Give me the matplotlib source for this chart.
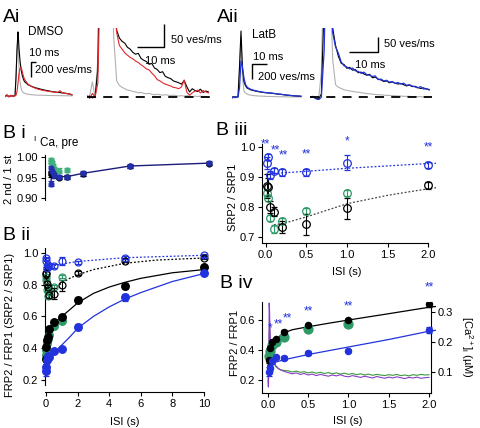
import matplotlib.pyplot as plt
import numpy as np

plt.rcParams['font.family'] = ['Liberation Sans', 'DejaVu Sans']
plt.rcParams['mathtext.fontset'] = 'custom'
plt.rcParams['mathtext.rm'] = 'Liberation Sans'
plt.rcParams['mathtext.it'] = 'Liberation Sans:italic'
plt.rcParams['font.size'] = 8
plt.rcParams['axes.linewidth'] = 0.8

BLACK = 'black'
RED = '#e3262b'
GRAY = '#b0b0b0'
BLUE = '#2233dd'
NAVY = '#1c1c7a'
GREEN = '#2e9a68'
LGREEN = '#3fb07c'
PURPLE = '#8a3cc8'
CA_GREEN = '#3a9a3a'

# ---------------- A: release rate traces (ves/ms vs ms) ----------------
ai_left_t = [0, 4, 8, 12, 16, 20, 22, 24, 26, 27, 28, 30, 32, 34, 36, 38, 40, 43, 46,
             50, 54, 58, 62, 66, 70, 75, 80, 85, 90, 95, 100, 105, 110, 115, 120, 125, 130, 134]
ai_left_black = [0, 5, -5, 3, 0, 4, 250, 620, 855, 760, 640, 470, 360, 290, 240, 205, 185, 170, 150,
                 138, 125, 118, 108, 102, 94, 86, 78, 72, 65, 58, 54, 50, 46, 42, 38, 32, 26, 16]
ai_left_red = [-10, 20, -15, 10, -5, 5, 10, 60, 170, 240, 300, 370, 385, 340, 285, 240, 215, 185, 160,
               140, 125, 112, 100, 92, 85, 76, 70, 64, 60, 55, 50, 46, 72, 40, 36, 30, 25, 15]
ai_left_gray = [0, 0, 0, 0, 0, 0, 240, 600, 800, 560, 380, 190, 110, 65, 50, 40, 34, 28, 24,
                20, 17, 15, 13, 12, 11, 10, 9, 8, 7, 7, 6, 5, 5, 4, 4, 3, 3, 2]

ai_right_t = np.arange(46)
ai_right_black = [0, 2, -2, 1, 60, 400, 860, 700, 450, 300, 200,
                  145, 128, 121, 117, 108, 104, 97, 93, 95, 84, 80, 77, 71, 73, 63, 60, 53, 55, 45, 42,
                  40, 35, 33, 31, 28, 36, 22, 11, 18, 14, 12, 17, 10, 13, 11]
ai_right_red = [3, -3, 8, 0, 30, 300, 500, 420, 380, 300, 200,
                140, 112, 104, 96, 91, 86, 83, 78, 75, 70, 66, 61, 59, 52, 46, 38, 35, 31, 28, 26,
                24, 21, 20, 18, 22, 37, 10, 4, 9, 13, 15, 9, 14, 11, 9]
ai_right_gray = [0, 3, 33, 0, 80, 500, 800, 600, 400, 250, 120,
                 35, 25, 21, 18, 15, 14, 12, 11, 9, 10, 8, 7, 8, 6, 5, 6, 5, 4, 5, 4,
                 3, 4, 3, 2, 3, 2, 3, 2, 1, 2, 1, 2, 1, 0, 1]

aii_left_t = np.arange(47)
aii_left_blue = [-15, 5, -10, 0, 2, 120, 480, 400, 250, 170, 135,
                 118, 108, 100, 93, 88, 82, 78, 72, 70, 66, 63, 60, 58, 56, 55, 53, 52, 48, 45, 42,
                 40, 38, 36, 32, 30, 27, 25, 23, 21, 19, 17, 15, 14, 13, 12, 10]
aii_left_black = [0, 0, 2, 0, 0, 400, 880, 380, 200, 150, 120,
                  110, 100, 92, 87, 82, 78, 74, 70, 67, 64, 61, 58, 56, 54, 52, 50, 48, 46, 43, 40,
                  38, 36, 34, 31, 29, 26, 24, 22, 20, 18, 16, 15, 13, 12, 11, 10]
aii_left_gray = [0, 0, 0, 0, 0, 350, 800, 250, 80, 53, 40,
                 32, 26, 22, 20, 18, 16, 14, 13, 12, 11, 10, 9, 8, 8, 7, 6, 6, 5, 5, 4,
                 4, 4, 3, 3, 3, 2, 2, 2, 2, 1, 1, 1, 1, 1, 0, 0]

aii_right_t = np.arange(43)
aii_right_blue = [0, 3, -4, -8, 0, 150, 600, 400, 205, 160, 140, 112, 100, 96, 90, 93, 84, 82, 76, 80,
                  72, 70, 66, 68, 56, 58, 52, 54, 48, 50, 44, 47, 42, 45, 38, 40, 36, 33, 30, 34, 26, 28, 23]
aii_right_black = [0, 2, -3, -6, 10, 300, 700, 420, 220, 165, 130, 108, 104, 92, 95, 86, 88, 78, 80, 74,
                   70, 73, 62, 64, 58, 55, 50, 52, 46, 49, 45, 42, 44, 40, 36, 39, 34, 35, 31, 28, 30, 26, 25]
aii_right_gray = [0, 2, -2, -8, 80, 500, 700, 400, 120, 40, 32, 28, 24, 22, 20, 19, 17, 16, 15, 13,
                  12, 11, 10, 9, 8, 8, 7, 6, 6, 5, 5, 4, 4, 3, 3, 3, 2, 2, 2, 2, 1, 1, 1]

# ---------------- B: paired-pulse data ----------------
isi = [0.01, 0.03, 0.05, 0.1, 0.2, 0.5, 1, 2, 5, 10]

ica_black = [0.958, 0.962, 0.960, 0.958, 0.955, 0.950, 0.951, 0.958, 0.977, 0.984]
ica_black_err = [0.006, 0.005, 0.005, 0.005, 0.005, 0.004, 0.004, 0.005, 0.004, 0.004]
ica_blue = [0.935, 0.972, 0.965, 0.960, 0.955, 0.952, 0.952, 0.960, 0.978, 0.985]
ica_blue_err = [0.006, 0.006, 0.005, 0.005, 0.005, 0.005, 0.005, 0.006, 0.004, 0.004]
ica_green = [0.992, 0.988, 0.985, 0.978, 0.970, 0.967, 0.968]
ica_green_err = [0.006, 0.005, 0.005, 0.005, 0.005, 0.005, 0.005]

frp_black = [0.33, 0.41, 0.45, 0.47, 0.52, 0.565, 0.598, 0.705, 0.79, 0.91]
frp_black_err = [0.015, 0.015, 0.012, 0.012, 0.01, 0.01, 0.01, 0.02, 0.02, 0.015]
frp_blue = [0.255, 0.28, 0.325, 0.35, 0.345, 0.38, 0.395, 0.535, 0.72, 0.875]
frp_blue_err = [0.03, 0.02, 0.015, 0.012, 0.012, 0.012, 0.01, 0.02, 0.02, 0.015]
frp_green = [0.36, 0.39, 0.43, 0.455, 0.485, 0.54, 0.573]
frp_green_err = [0.012, 0.01, 0.01, 0.01, 0.01, 0.01, 0.01]

srp_black = [0.872, 0.869, 0.802, 0.785, 0.735, 0.744, 0.797, 0.874, 0.95, 0.97]
srp_black_err = [0.04, 0.03, 0.02, 0.015, 0.02, 0.035, 0.035, 0.012, 0.01, 0.01]
srp_blue = [0.947, 0.967, 0.908, 0.922, 0.917, 0.917, 0.949, 0.941, 0.97, 0.985]
srp_blue_err = [0.02, 0.01, 0.012, 0.008, 0.012, 0.012, 0.025, 0.01, 0.008, 0.008]
srp_green = [0.847, 0.83, 0.766, 0.728, 0.755, 0.788, 0.849]
srp_green_err = [0.01, 0.01, 0.01, 0.012, 0.01, 0.01, 0.01]

fit_frp_black_x = [0, 0.02, 0.05, 0.1, 0.15, 0.2, 0.3, 0.5, 0.75, 1, 1.5, 2, 3, 4, 5, 6, 8, 10]
fit_frp_black_y = [0.29, 0.36, 0.42, 0.465, 0.495, 0.515, 0.535, 0.555, 0.578, 0.60, 0.642, 0.685,
                   0.745, 0.785, 0.815, 0.84, 0.875, 0.895]
fit_frp_blue_x = [0, 0.05, 0.1, 0.2, 0.5, 1, 1.5, 2, 3, 4, 5, 6, 8, 10]
fit_frp_blue_y = [0.295, 0.31, 0.32, 0.335, 0.37, 0.42, 0.47, 0.525, 0.60, 0.66, 0.71, 0.75, 0.82, 0.87]
fit_srp_black_x = [0.1, 0.2, 0.5, 1, 1.5, 2, 3, 5, 7, 10]
fit_srp_black_y = [0.742, 0.745, 0.768, 0.812, 0.84, 0.862, 0.895, 0.935, 0.955, 0.968]
fit_srp_blue_x = [0.05, 0.5, 1, 2, 5, 10]
fit_srp_blue_y = [0.912, 0.92, 0.93, 0.946, 0.97, 0.985]

srp_star_x = [0.0, 0.12, 0.22, 0.5, 1.0, 2.0]
srp_star_y = [1.01, 0.99, 0.972, 0.977, 1.019, 1.0]
srp_star_txt = ['**', '**', '**', '**', '*', '**']
frp_star_x = [0.03, 0.13, 0.24, 0.5, 1.0, 2.0]
frp_star_y = [0.545, 0.573, 0.61, 0.655, 0.69, 0.815]
frp_star_txt = ['*', '**', '**', '**', '**', '**']

# [Ca2+]i traces (s, uM)
ca_t = np.concatenate([[0, 0.005, 0.01, 0.015, 0.02, 0.025, 0.03, 0.04, 0.05, 0.06, 0.08, 0.1, 0.125, 0.15, 0.2],
                       np.arange(0.25, 2.0001, 0.05)])
ca_purple = [0.07, 0.05, 0.12, 0.33, 0.30, 0.24, 0.20, 0.17, 0.155, 0.14, 0.13, 0.12, 0.113, 0.108, 0.102,
             0.098, 0.094, 0.097, 0.092, 0.095, 0.090, 0.093, 0.088, 0.092, 0.089,
             0.086, 0.090, 0.087, 0.091, 0.086, 0.084, 0.088, 0.085, 0.082, 0.086,
             0.083, 0.080, 0.085, 0.082, 0.079, 0.083, 0.080, 0.084, 0.081, 0.078,
             0.082, 0.080, 0.083, 0.079, 0.081, 0.082]
ca_green = [0.08, 0.07, 0.10, 0.22, 0.25, 0.21, 0.18, 0.16, 0.145, 0.135, 0.125, 0.117, 0.112, 0.108, 0.105,
            0.104, 0.100, 0.103, 0.099, 0.101, 0.097, 0.100, 0.096, 0.099, 0.095,
            0.098, 0.094, 0.097, 0.093, 0.096, 0.092, 0.095, 0.091, 0.094, 0.090,
            0.093, 0.089, 0.092, 0.090, 0.088, 0.091, 0.089, 0.092, 0.088, 0.090,
            0.087, 0.091, 0.089, 0.092, 0.090, 0.091]

W, H = 480, 428
fig = plt.figure(figsize=(W / 100, H / 100), dpi=100)


def box(x0, y0, x1, y1):
    # axes from pixel box (top-left origin)
    return fig.add_axes([x0 / W, 1 - y1 / H, (x1 - x0) / W, (y1 - y0) / H])


def trace_axes(x0, x1, xlim, ylim):
    ax = box(x0, 28, x1, 100)
    ax.set_xlim(*xlim)
    ax.set_ylim(*ylim)
    ax.axis('off')
    return ax


def bar(ax, xs, ys):
    ax.plot(xs, ys, color=BLACK, lw=1.0, clip_on=False, solid_capstyle='butt')


# Ai left
ax = trace_axes(5, 75, (0, 140), (-53, 907))
ax.plot(ai_left_t, ai_left_gray, color=GRAY, lw=0.8)
ax.plot(ai_left_t, ai_left_black, color=BLACK, lw=0.8)
ax.plot(ai_left_t, ai_left_red, color=RED, lw=0.8)
bar(ax, [51.4, 51.4, 61.4], [250, 450, 450])
ax.text(46, 853, 'DMSO', fontsize=8.5, va='center', clip_on=False)
ax.text(48, 573, '10 ms', fontsize=8, va='center', clip_on=False)
ax.text(60, 347, '200 ves/ms', fontsize=8, va='center', clip_on=False)

# Ai right
ax = trace_axes(87, 212, (0, 46.3), (-6.5, 150))
ax.plot(ai_right_t, ai_right_gray, color=GRAY, lw=0.8)
ax.plot(ai_right_t, ai_right_black, color=BLACK, lw=0.8)
ax.plot(ai_right_t, ai_right_red, color=RED, lw=0.8)
ax.axhline(0, color=BLACK, lw=1.3, dashes=(5, 4))
bar(ax, [18.4, 28.6, 28.6], [109, 109, 159])
ax.text(31, 124, '50 ves/ms', fontsize=8, va='center', clip_on=False)
ax.text(21.5, 78, '10 ms', fontsize=8, va='center', clip_on=False)

# Aii left
ax = trace_axes(232, 302, (0, 46.7), (-40, 920))
ax.plot(aii_left_t, aii_left_gray, color=GRAY, lw=0.8)
ax.plot(aii_left_t, aii_left_black, color=BLACK, lw=0.8)
ax.plot(aii_left_t, aii_left_blue, color=BLUE, lw=0.9)
bar(ax, [13.3, 13.3, 23.3], [240, 440, 440])
ax.text(13.5, 826, 'LatB', fontsize=8.5, va='center', clip_on=False)
ax.text(14.2, 529, '10 ms', fontsize=8, va='center', clip_on=False)
ax.text(17.5, 271, '200 ves/ms', fontsize=8, va='center', clip_on=False)

# Aii right
ax = trace_axes(310, 432, (0, 43), (-8.6, 220))
ax.plot(aii_right_t, aii_right_gray, color=GRAY, lw=0.8)
ax.plot(aii_right_t, aii_right_black, color=BLACK, lw=0.8)
ax.plot(aii_right_t, aii_right_blue, color=BLUE, lw=0.9)
ax.axhline(0, color=BLACK, lw=1.3, dashes=(5, 4))
bar(ax, [13.8, 23.8, 23.8], [143, 143, 193])
ax.text(26.1, 170, '50 ves/ms', fontsize=8, va='center', clip_on=False)
ax.text(15.8, 103, '10 ms', fontsize=8, va='center', clip_on=False)


def style(ax, xspine, xbounds, ybounds=None, bottom=True):
    for s in ('top', 'right'):
        ax.spines[s].set_visible(False)
    ax.spines['left'].set_position(('data', xspine))
    if ybounds:
        ax.spines['left'].set_bounds(*ybounds)
    if bottom:
        ax.spines['bottom'].set_bounds(*xbounds)
    else:
        ax.spines['bottom'].set_visible(False)
        ax.set_xticks([])
    ax.tick_params(direction='out', length=3, width=0.8, labelsize=8, pad=2)


def pts(ax, x, y, e, color, filled=True, ms=5, z=3):
    ax.errorbar(x, y, yerr=e, fmt='o', ms=ms, mfc=color if filled else 'none', mec=color,
                mew=0.9, ecolor=color, elinewidth=0.8, capsize=2.2, capthick=0.8, zorder=z)


# Bi
ax1 = box(38, 150, 212, 205)
ax1.set_xlim(-0.82, 10.19)
ax1.set_ylim(0.883, 1.017)
style(ax1, -0.38, None, (0.895, 1.005), bottom=False)
ax1.set_yticks([0.90, 0.95, 1.00])
ax1.plot(isi, ica_blue, color=NAVY, lw=1.0, zorder=2)
pts(ax1, isi[:7], ica_green, ica_green_err, LGREEN, ms=3.5)
pts(ax1, isi, ica_black, ica_black_err, BLACK, ms=3.5)
pts(ax1, isi, ica_blue, ica_blue_err, '#2230b0', ms=3.5)
fig.text(33 / W, 1 - 140 / H, 'I', fontsize=6, va='center')
fig.text(40 / W, 1 - 143 / H, 'Ca, pre', fontsize=8.5, va='center')
fig.text(9 / W, 1 - 179 / H, '2 nd / 1 st', fontsize=8, rotation=90, ha='center', va='center')

# Bii
ax2 = box(36, 248, 210, 392)
ax2.set_xlim(-0.633, 10.38)
ax2.set_ylim(0.124, 1.031)
style(ax2, -0.063, (-0.063, 10), (0.17, 1.03))
ax2.set_xticks([0, 2, 4, 6, 8, 10])
ax2.set_yticks([0.2, 0.4, 0.6, 0.8, 1.0])
ax2.plot(fit_srp_black_x, fit_srp_black_y, color=BLACK, lw=0.9, ls=(0, (1.5, 1.5)))
ax2.plot(fit_srp_blue_x, fit_srp_blue_y, color=BLUE, lw=0.9, ls=(0, (1.5, 1.5)))
pts(ax2, isi[:7], srp_green, srp_green_err, GREEN, filled=False)
pts(ax2, isi, srp_black, srp_black_err, BLACK, filled=False)
pts(ax2, isi, srp_blue, srp_blue_err, BLUE, filled=False)
ax2.plot(fit_frp_black_x, fit_frp_black_y, color=BLACK, lw=0.9)
ax2.plot(fit_frp_blue_x, fit_frp_blue_y, color=BLUE, lw=0.9)
pts(ax2, isi[:7], frp_green, frp_green_err, GREEN, ms=5.5)
pts(ax2, isi, frp_black, frp_black_err, BLACK, ms=5.5)
pts(ax2, isi, frp_blue, frp_blue_err, BLUE, ms=5.5)
fig.text(10 / W, 1 - 325 / H, 'FRP2 / FRP1 (SRP2 / SRP1)', fontsize=8, rotation=90, ha='center', va='center')
fig.text(125 / W, 1 - 422 / H, 'ISI (s)', fontsize=8, ha='center', va='center')

# Biii
ax3 = box(258, 144, 436, 243)
ax3.set_xlim(-0.0947, 2.093)
ax3.set_ylim(0.681, 1.011)
style(ax3, -0.0455, (-0.0455, 2.0))
ax3.set_xticks([0, 0.5, 1.0, 1.5, 2.0])
ax3.set_yticks([0.7, 0.8, 0.9, 1.0])
ax3.plot(fit_srp_black_x, fit_srp_black_y, color='#444444', lw=0.9, ls=(0, (1.5, 1.5)))
ax3.plot(fit_srp_blue_x, fit_srp_blue_y, color=BLUE, lw=0.9, ls=(0, (1.5, 1.5)))
pts(ax3, isi[:7], srp_green, srp_green_err, GREEN, filled=False, ms=5.5)
pts(ax3, isi[:8], srp_black[:8], srp_black_err[:8], BLACK, filled=False, ms=5.5)
pts(ax3, isi[:8], srp_blue[:8], srp_blue_err[:8], BLUE, filled=False, ms=5.5)
for x, y, s in zip(srp_star_x, srp_star_y, srp_star_txt):
    ax3.text(x, y, s, color=BLUE, fontsize=8.5, ha='center', va='center')
fig.text(233 / W, 1 - 197 / H, 'SRP2 / SRP1', fontsize=8, rotation=90, ha='center', va='center')
fig.text(347 / W, 1 - 272 / H, 'ISI (s)', fontsize=8, ha='center', va='center')

# Biv
ax4 = box(258, 302, 436, 393)
ax4.set_xlim(-0.124, 2.087)
ax4.set_ylim(0.1133, 0.72)
style(ax4, -0.0745, (-0.0745, 2.025))
ax4.set_xticks([0, 0.5, 1.0, 1.5, 2.0])
ax4.set_yticks([0.2, 0.4, 0.6])
ax4r = ax4.twinx()
ax4r.set_ylim(0.03, 0.3333)
for s in ('top', 'left', 'bottom'):
    ax4r.spines[s].set_visible(False)
ax4r.spines['right'].set_position(('data', 2.025))
ax4r.set_yticks([0.1, 0.2, 0.3])
ax4r.tick_params(direction='out', length=3, width=0.8, labelsize=8, pad=2)
ax4r.plot(ca_t, ca_green, color=CA_GREEN, lw=0.8)
ax4r.plot(ca_t, ca_purple, color=PURPLE, lw=0.8)
ax4.set_zorder(ax4r.get_zorder() + 1)
ax4.patch.set_visible(False)
ax4.plot(fit_frp_black_x, fit_frp_black_y, color=BLACK, lw=0.9)
ax4.plot(fit_frp_blue_x, fit_frp_blue_y, color=BLUE, lw=0.9)
pts(ax4, isi[:7], frp_green, frp_green_err, GREEN, ms=6.5)
pts(ax4, isi[:8], frp_black[:8], frp_black_err[:8], BLACK, ms=4.5)
pts(ax4, isi[:8], frp_blue[:8], frp_blue_err[:8], BLUE, ms=4.5)
for x, y, s in zip(frp_star_x, frp_star_y, frp_star_txt):
    ax4.text(x, y, s, color=BLUE, fontsize=8.5, ha='center', va='center')
fig.text(235 / W, 1 - 343 / H, 'FRP2 / FRP1', fontsize=8, rotation=90, ha='center', va='center')
fig.text(348 / W, 1 - 421 / H, 'ISI (s)', fontsize=8, ha='center', va='center')
fig.text(467 / W, 1 - 347 / H, '[Ca$^{2+}$]$_\\mathrm{i}$ (µM)', fontsize=8, rotation=270,
         ha='center', va='center')

# panel letters
for x, y, s in [(3, 22, 'Ai'), (217, 22, 'Aii'), (3, 138, 'B i'), (3, 240, 'B ii'),
                (216, 135, 'B iii'), (220, 288, 'B iv')]:
    fig.text(x / W, 1 - y / H, s, fontsize=14, va='baseline')

fig.savefig('out.png', dpi=100)
